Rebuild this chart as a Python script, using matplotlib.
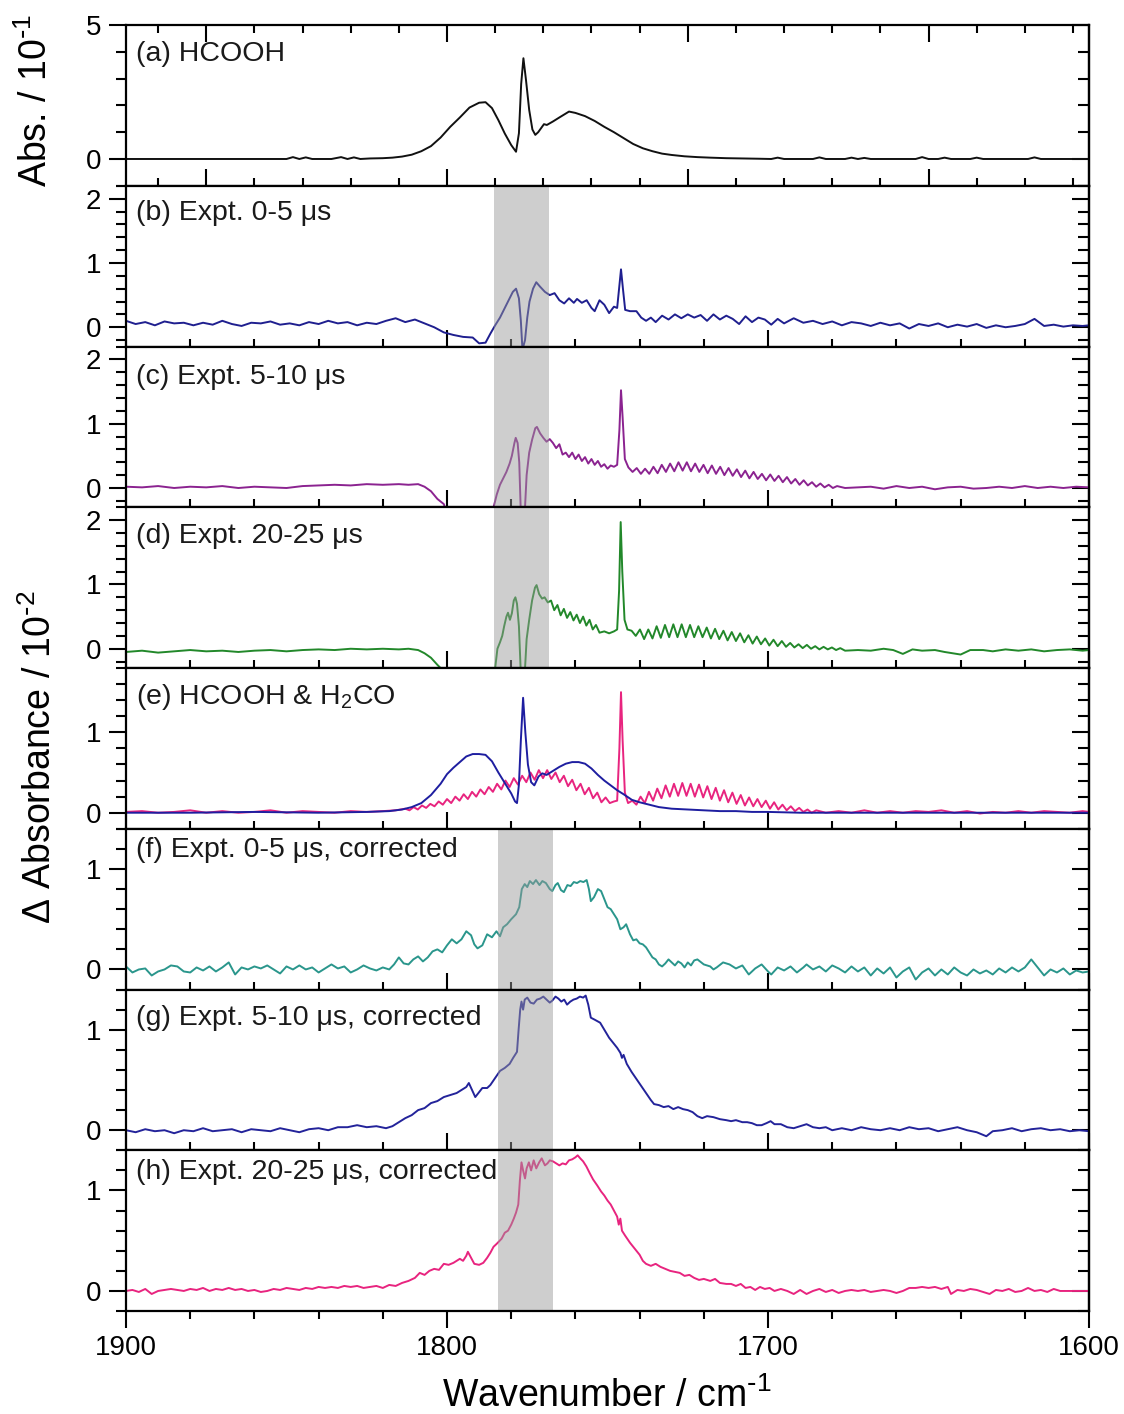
import numpy as np
import matplotlib
matplotlib.use('Agg')
import matplotlib.pyplot as plt
from matplotlib.ticker import MultipleLocator, FuncFormatter

plt.rcParams['font.family'] = ['Liberation Sans', 'DejaVu Sans']
plt.rcParams['mathtext.default'] = 'regular'

# --- data: (wavenumber, value) ---
hcooh_ref = [(1900,0),(1870,0),(1850,0),(1848,0.07),(1846,0),(1844,0.06),(1842,0),(1836,0),(1833,0.07),(1831,0),
             (1829,0.06),(1827,0),(1824,0.02),(1820,0.03),(1817,0.05),(1814,0.09),(1811,0.16),(1808,0.29),(1805,0.48),
             (1802,0.8),(1799,1.2),(1796,1.55),(1793,1.92),(1790,2.1),(1788,2.12),(1786,1.9),(1784,1.45),(1782,0.95),
             (1780,0.52),(1778.5,0.27),(1777.6,0.96),(1776.9,2.8),(1776.2,3.76),(1775.4,2.95),(1774.4,1.83),(1773.4,1.1),
             (1772.5,0.9),(1771.6,1.0),(1770.7,1.15),(1769.8,1.3),(1768.9,1.27),(1767,1.4),(1765,1.55),(1762,1.77),
             (1760,1.72),(1757,1.6),(1754,1.42),(1751,1.2),(1748,1.0),(1745,0.78),(1742,0.56),(1739,0.4),(1736,0.29),
             (1733,0.2),(1730,0.15),(1726,0.1),(1722,0.07),(1718,0.05),(1713,0.03),(1708,0.02),(1703,0.01),(1699,0),
             (1697,0.05),(1695,0),(1686,0),(1684,0.06),(1682,0),(1676,0),(1674,0.05),(1672,0),(1670,0.04),(1668,0),
             (1654,0),(1652,0.07),(1650,0),(1647,0),(1645,0.05),(1643,0),(1637,0),(1635,0.05),(1633,0),(1619,0),
             (1617,0.06),(1615,0),(1600,0)]

expt_0_5 = [(1900,0.10),(1897,0.05),(1894,0.08),(1891,0.03),(1888,0.09),(1885,0.06),(1882,0.07),(1879,0.03),(1876,0.07),
            (1873,0.04),(1870,0.10),(1867,0.05),(1864,0.02),(1861,0.07),(1858,0.06),(1855,0.09),(1852,0.04),(1849,0.06),
            (1846,0.03),(1843,0.08),(1840,0.05),(1837,0.10),(1834,0.06),(1831,0.08),(1828,0.03),(1825,0.07),(1822,0.05),
            (1819,0.10),(1816,0.14),(1813,0.08),(1810,0.12),(1807,0.06),(1804,0.0),(1801,-0.08),(1798,-0.12),(1795,-0.15),
            (1792,-0.16),(1790,-0.25),(1788,-0.24),(1786.5,-0.1),(1785,0.03),(1783.5,0.15),(1782,0.3),(1780.5,0.45),
            (1779.5,0.55),(1778.5,0.6),(1777.6,0.45),(1777,0.1),(1776.5,-0.35),(1775.7,-0.2),(1775,0.15),(1774.3,0.4),
            (1773.2,0.6),(1772.2,0.7),(1771,0.63),(1769.5,0.55),(1768,0.5),(1766.5,0.53),(1765,0.42),(1763.5,0.37),
            (1762,0.45),(1760.5,0.38),(1759.5,0.44),(1758,0.38),(1756.5,0.42),(1755,0.3),(1754,0.25),(1752.5,0.42),
            (1751,0.35),(1749.5,0.22),(1748,0.32),(1747,0.3),(1746.2,0.7),(1745.8,0.9),(1745.2,0.6),(1744.5,0.27),
            (1743,0.25),(1741,0.25),(1739.5,0.15),(1738,0.1),(1736.5,0.15),(1735,0.08),(1733,0.18),(1731,0.12),
            (1729,0.2),(1727,0.14),(1725,0.2),(1723,0.15),(1721,0.19),(1719,0.1),(1717,0.2),(1715,0.12),(1713,0.18),
            (1711,0.13),(1709,0.05),(1707,0.17),(1705,0.08),(1703,0.15),(1701,0.12),(1699,0.04),(1697,0.13),(1695,0.06),
            (1692,0.14),(1689,0.07),(1686,0.1),(1683,0.05),(1680,0.09),(1677,0.03),(1674,0.08),(1671,0.06),(1668,0.02),
            (1665,0.07),(1662,0.03),(1659,0.06),(1656,-0.02),(1653,0.05),(1650,0.02),(1647,0.06),(1644,0.0),(1641,0.04),
            (1638,0.01),(1635,0.05),(1632,-0.01),(1629,0.03),(1626,0.0),(1623,0.02),(1620,0.05),(1617,0.13),(1614,0.02),
            (1611,0.04),(1608,0.01),(1605,0.03),(1602,0.02),(1600,0.03)]

expt_5_10 = [(1900,0.02),(1895,0.01),(1890,0.03),(1885,0.0),(1880,0.02),(1875,0.01),(1870,0.03),(1865,0.0),(1860,0.02),
             (1855,0.01),(1850,0.0),(1845,0.03),(1840,0.04),(1835,0.05),(1830,0.04),(1825,0.06),(1820,0.05),(1815,0.06),
             (1812,0.05),(1809,0.06),(1807,0.02),(1805,-0.05),(1803,-0.17),(1801,-0.25),(1800,-0.4),(1799,-0.6),
             (1787,-0.6),(1785.5,-0.3),(1784.5,-0.1),(1783.5,0.05),(1782.5,0.15),(1781.5,0.25),(1780.5,0.38),
             (1779.8,0.5),(1779,0.7),(1778.6,0.78),(1778,0.7),(1777.5,0.4),(1777,-0.4),(1775.8,-0.4),(1775.2,0.2),
             (1774.4,0.55),(1773.5,0.75),(1772.5,0.93),(1772,0.95),(1771,0.85),(1770,0.78),(1769,0.72),(1768,0.76),
             (1767,0.7),(1766,0.62),(1765,0.68),(1764,0.52),(1763,0.55),(1762,0.48),(1761,0.55),(1760,0.45),(1759,0.52),
             (1758,0.42),(1757,0.48),(1756,0.38),(1755,0.45),(1754,0.36),(1753,0.42),(1752,0.33),(1751,0.37),(1750,0.3),
             (1749,0.35),(1748,0.33),(1747,0.36),(1746.3,0.9),(1745.8,1.52),(1745.3,1.1),(1744.6,0.45),(1743.5,0.32),
             (1742.2,0.25),(1740.9,0.31),(1739.6,0.22),(1738.3,0.3),(1737,0.22),(1735.7,0.33),(1734.4,0.23),
             (1733.1,0.36),(1731.8,0.25),(1730.5,0.38),(1729.2,0.26),(1727.9,0.4),(1726.6,0.27),(1725.3,0.4),(1724,0.26),
             (1722.7,0.38),(1721.4,0.25),(1720.1,0.36),(1718.8,0.23),(1717.5,0.35),(1716.2,0.22),(1714.9,0.33),
             (1713.6,0.2),(1712.3,0.31),(1711,0.19),(1709.7,0.29),(1708.4,0.17),(1707.1,0.27),(1705.8,0.15),
             (1704.5,0.25),(1703.2,0.14),(1701.9,0.22),(1700.6,0.12),(1699.3,0.21),(1698,0.11),(1696.7,0.19),
             (1695.4,0.09),(1694.1,0.17),(1692.8,0.07),(1691.5,0.14),(1690.2,0.05),(1688.9,0.12),(1687.6,0.04),
             (1686.3,0.09),(1685,0.02),(1683.7,0.07),(1682.4,0.01),(1681.1,0.05),(1679.8,0.0),(1678.5,0.03),(1676,0.0),
             (1672,0.01),(1668,0.02),(1664,-0.01),(1660,0.03),(1656,0.0),(1652,0.02),(1648,-0.02),(1644,0.01),
             (1640,0.02),(1636,-0.01),(1632,0.0),(1628,0.02),(1624,0.0),(1620,0.03),(1616,0.0),(1612,0.02),(1608,0.0),
             (1604,0.02),(1600,0.01)]

expt_20_25 = [(1900,-0.05),(1895,-0.03),(1890,-0.06),(1885,-0.04),(1880,-0.02),(1875,-0.04),(1870,-0.03),(1865,-0.05),
              (1860,-0.03),(1855,-0.02),(1850,-0.04),(1845,-0.02),(1840,-0.01),(1835,-0.02),(1830,0.0),(1825,-0.01),
              (1820,0.0),(1815,-0.01),(1812,0.0),(1809,-0.02),(1807,-0.07),(1805,-0.14),(1803,-0.25),(1801,-0.35),
              (1800,-0.6),(1787,-0.6),(1785,-0.3),(1784.3,0.0),(1783.5,0.1),(1782.8,0.2),(1782.2,0.35),(1781.5,0.5),
              (1781,0.56),(1780.4,0.45),(1779.8,0.55),(1779.2,0.75),(1778.7,0.8),(1778.2,0.7),(1777.6,0.35),
              (1777,-0.4),(1775.8,-0.4),(1775.2,0.15),(1774.4,0.45),(1773.5,0.75),(1772.6,0.95),(1772.1,0.99),
              (1771.3,0.85),(1770.4,0.78),(1769.6,0.8),(1768.6,0.72),(1767.6,0.75),(1766.6,0.6),(1765.6,0.68),
              (1764.6,0.52),(1763.6,0.62),(1762.6,0.48),(1761.6,0.57),(1760.6,0.44),(1759.6,0.53),(1758.6,0.4),
              (1757.6,0.5),(1756.6,0.36),(1755.6,0.45),(1754.6,0.3),(1753.6,0.37),(1752.5,0.25),(1751,0.27),
              (1749.5,0.24),(1748,0.27),(1747,0.3),(1746.4,0.9),(1745.9,1.97),(1745.4,1.2),(1744.7,0.45),(1743.8,0.3),
              (1742.5,0.28),(1741.2,0.2),(1739.9,0.3),(1738.6,0.15),(1737.3,0.3),(1736,0.16),(1734.7,0.35),
              (1733.4,0.17),(1732.1,0.37),(1730.8,0.18),(1729.5,0.38),(1728.2,0.18),(1726.9,0.38),(1725.6,0.18),
              (1724.3,0.37),(1723,0.18),(1721.7,0.35),(1720.4,0.18),(1719.1,0.33),(1717.8,0.16),(1716.5,0.31),
              (1715.2,0.15),(1713.9,0.28),(1712.6,0.13),(1711.3,0.26),(1710,0.12),(1708.7,0.24),(1707.4,0.1),
              (1706.1,0.21),(1704.8,0.08),(1703.5,0.19),(1702.2,0.07),(1700.9,0.16),(1699.6,0.05),(1698.3,0.14),
              (1697,0.04),(1695.7,0.12),(1694.4,0.03),(1693.1,0.09),(1691.8,0.02),(1690.5,0.07),(1689.2,0.01),
              (1687.9,0.06),(1686.6,0.0),(1685.3,0.04),(1684,-0.01),(1682.7,0.03),(1681.4,-0.01),(1680.1,0.02),
              (1678.8,-0.02),(1677.5,0.01),(1676,-0.03),(1672,-0.02),(1668,-0.03),(1664,0.0),(1661,-0.02),(1658,-0.08),
              (1655,-0.01),(1652,-0.03),(1648,-0.02),(1645,-0.05),(1640,-0.09),(1637,-0.02),(1633,-0.02),(1630,-0.04),
              (1626,-0.01),(1622,-0.03),(1618,-0.01),(1614,-0.04),(1610,-0.02),(1606,-0.01),(1602,-0.03),(1600,-0.02)]

hcooh_e = [(1900,0.0),(1880,0.0),(1860,0.01),(1840,0.0),(1825,0.01),(1818,0.02),(1814,0.04),(1811,0.07),(1808,0.12),
           (1805,0.22),(1802,0.36),(1800,0.48),(1798,0.56),(1796,0.63),(1794,0.7),(1792,0.73),(1790,0.73),(1788,0.72),
           (1786,0.64),(1784,0.5),(1782,0.37),(1780,0.24),(1778.8,0.14),(1778.2,0.12),(1777.6,0.35),(1777,0.9),
           (1776.3,1.43),(1775.6,1.0),(1774.8,0.6),(1773.8,0.38),(1772.8,0.34),(1771.5,0.45),(1770.3,0.49),(1769,0.47),
           (1767,0.52),(1765,0.57),(1763,0.61),(1761,0.63),(1759,0.63),(1757,0.61),(1755,0.55),(1753,0.47),(1751,0.4),
           (1749,0.34),(1747,0.28),(1745,0.23),(1742.4,0.16),(1740,0.13),(1737,0.1),(1734,0.07),(1730,0.05),
           (1725,0.04),(1720,0.03),(1715,0.02),(1710,0.02),(1705,0.01),(1700,0.01),(1690,0.0),(1680,0.0),(1660,0.0),
           (1640,0.0),(1620,0.0),(1600,0.0)]

h2co_e = [(1900,0.01),(1895,0.02),(1890,0.0),(1885,0.01),(1880,0.03),(1875,0.0),(1870,0.02),(1865,0.0),(1860,0.01),
          (1855,0.03),(1850,0.0),(1845,0.02),(1840,0.01),(1835,0.0),(1830,0.02),(1825,0.01),(1820,0.02),(1816,0.03),
          (1813,0.05),(1811.7,0.03),(1810.4,0.07),(1809.1,0.04),(1807.8,0.09),(1806.5,0.06),(1805.2,0.11),
          (1803.9,0.08),(1802.6,0.14),(1801.3,0.1),(1800,0.17),(1798.7,0.12),(1797.4,0.2),(1796.1,0.15),(1794.8,0.23),
          (1793.5,0.17),(1792.2,0.26),(1790.9,0.2),(1789.6,0.29),(1788.3,0.23),(1787,0.32),(1785.7,0.26),
          (1784.4,0.36),(1783.1,0.29),(1781.8,0.4),(1780.5,0.32),(1779.2,0.43),(1777.9,0.35),(1776.6,0.46),
          (1775.3,0.38),(1774,0.5),(1772.7,0.41),(1771.4,0.53),(1770.1,0.43),(1768.8,0.53),(1767.5,0.42),
          (1766.2,0.5),(1764.9,0.38),(1763.6,0.46),(1762.3,0.33),(1761,0.41),(1759.7,0.28),(1758.4,0.36),
          (1757.1,0.23),(1755.8,0.31),(1754.5,0.18),(1753.2,0.25),(1751.9,0.13),(1750.6,0.19),(1749.3,0.12),
          (1748,0.14),(1747,0.15),(1746.3,0.8),(1745.8,1.5),(1745.3,0.9),(1744.6,0.25),(1743.6,0.12),(1742.3,0.15),
          (1741,0.1),(1739.7,0.2),(1738.4,0.12),(1737.1,0.26),(1735.8,0.15),(1734.5,0.3),(1733.2,0.18),(1731.9,0.34),
          (1730.6,0.2),(1729.3,0.36),(1728,0.21),(1726.7,0.37),(1725.4,0.21),(1724.1,0.36),(1722.8,0.2),
          (1721.5,0.35),(1720.2,0.19),(1718.9,0.33),(1717.6,0.17),(1716.3,0.31),(1715,0.15),(1713.7,0.28),
          (1712.4,0.13),(1711.1,0.25),(1709.8,0.11),(1708.5,0.22),(1707.2,0.09),(1705.9,0.19),(1704.6,0.08),
          (1703.3,0.17),(1702,0.07),(1700.7,0.15),(1699.4,0.05),(1698.1,0.13),(1696.8,0.04),(1695.5,0.1),
          (1694.2,0.03),(1692.9,0.08),(1691.6,0.02),(1690.3,0.06),(1689,0.01),(1687.7,0.04),(1686.4,0.0),
          (1685,0.03),(1682,0.0),(1678,0.02),(1674,0.0),(1670,0.03),(1666,0.0),(1662,0.02),(1658,0.0),(1654,0.02),
          (1650,0.01),(1646,0.03),(1642,0.0),(1638,0.02),(1634,-0.01),(1630,0.01),(1626,0.0),(1622,0.02),(1618,0.0),
          (1614,0.02),(1610,0.01),(1606,0.0),(1602,0.02),(1600,0.01)]

corr_0_5 = [(1900,0.03),(1898,-0.03),(1896,0.0),(1894,0.01),(1892,-0.06),(1890,-0.02),(1888,0.0),(1886,0.04),(1884,0.03),
            (1882,-0.02),(1880,-0.03),(1878,0.02),(1876,-0.01),(1874,0.03),(1872,-0.02),(1870,0.02),(1868,0.07),
            (1866,-0.05),(1864,0.02),(1862,0.0),(1860,0.03),(1858,0.01),(1856,0.04),(1854,0.0),(1852,-0.04),(1850,0.03),
            (1848,0.0),(1846,0.04),(1844,0.0),(1842,0.02),(1840,-0.03),(1838,0.01),(1836,0.05),(1834,0.01),(1832,0.03),
            (1830,-0.03),(1828,0.0),(1826,0.04),(1824,0.01),(1822,-0.01),(1820,0.02),(1818,0.0),(1816.5,0.05),
            (1815,0.12),(1813.5,0.06),(1812,0.05),(1810.5,0.1),(1809,0.13),(1807.5,0.08),(1806,0.12),(1804.5,0.18),
            (1803,0.2),(1801.5,0.17),(1800,0.24),(1798.5,0.3),(1797,0.26),(1795.5,0.3),(1794,0.38),(1792.5,0.34),
            (1791.5,0.25),(1790.5,0.21),(1789,0.24),(1787.5,0.35),(1786,0.32),(1784.6,0.38),(1783.5,0.33),
            (1782.5,0.42),(1781.3,0.45),(1780,0.5),(1778.5,0.55),(1777.5,0.62),(1776.7,0.8),(1775.8,0.85),(1775,0.82),
            (1774.2,0.88),(1773.2,0.85),(1772.3,0.89),(1771.2,0.84),(1770.3,0.88),(1769.2,0.86),(1768,0.8),
            (1767.2,0.78),(1766.2,0.84),(1765.5,0.86),(1764.5,0.79),(1763.6,0.77),(1762.5,0.84),(1761.5,0.83),
            (1760.5,0.87),(1759.5,0.86),(1758.5,0.88),(1757.5,0.87),(1756.5,0.89),(1755.8,0.8),(1755.2,0.68),
            (1754.2,0.72),(1753,0.8),(1752,0.78),(1751,0.7),(1750,0.62),(1749,0.6),(1748,0.55),(1747,0.5),(1746,0.4),
            (1745,0.42),(1744.2,0.45),(1743,0.35),(1742,0.29),(1741,0.3),(1740,0.26),(1739,0.25),(1738,0.22),
            (1737,0.17),(1736,0.12),(1735,0.1),(1734,0.05),(1733,0.03),(1732,0.06),(1731,0.1),(1730,0.07),(1729,0.04),
            (1728,0.08),(1727,0.06),(1726,0.02),(1725,0.07),(1724,0.04),(1723,0.09),(1722,0.1),(1720,0.05),(1718,0.03),
            (1717,0.0),(1716,0.02),(1714,0.07),(1712,0.05),(1710,0.01),(1708,0.04),(1706,-0.05),(1704,0.01),(1702,0.05),
            (1700,-0.02),(1699,-0.05),(1697,0.02),(1695,-0.01),(1693,0.03),(1691,-0.03),(1689,0.02),(1688,0.05),
            (1686,0.0),(1684,0.03),(1682,-0.02),(1680,0.04),(1678,0.01),(1676,-0.03),(1674,0.03),(1672,-0.02),
            (1670,0.02),(1668,-0.06),(1666,0.01),(1664,-0.04),(1662,0.02),(1660,-0.08),(1658,-0.02),(1656,0.02),
            (1654,-0.1),(1652,-0.03),(1650,0.01),(1648,-0.06),(1646,0.0),(1644,-0.05),(1642,0.02),(1640,-0.03),
            (1638,-0.06),(1636,0.0),(1634,-0.04),(1632,-0.01),(1630,-0.05),(1628,0.01),(1626,-0.03),(1624,0.02),
            (1622,-0.02),(1620,0.02),(1618,0.1),(1616,0.02),(1614,-0.06),(1612,0.0),(1610,-0.03),(1608,0.01),
            (1606,-0.05),(1604,-0.01),(1602,-0.03),(1600,-0.02)]

corr_5_10 = [(1900,0.0),(1897,-0.02),(1894,0.01),(1891,-0.01),(1888,0.0),(1885,-0.03),(1882,0.0),(1879,-0.01),(1876,0.02),
             (1873,-0.01),(1870,0.0),(1867,0.01),(1864,-0.02),(1861,0.01),(1858,0.0),(1855,-0.01),(1852,0.02),(1849,0.0),
             (1846,-0.02),(1843,0.01),(1840,0.02),(1837,0.0),(1834,0.03),(1831,0.03),(1828,0.05),(1825,0.03),(1822,0.04),
             (1819,0.02),(1817,0.04),(1815,0.08),(1813,0.12),(1811,0.15),(1809,0.2),(1807,0.22),(1805,0.27),(1803,0.29),
             (1801,0.33),(1799,0.35),(1797,0.37),(1795.5,0.4),(1794,0.43),(1793.2,0.47),(1792.2,0.4),(1791.2,0.33),
             (1790,0.38),(1789,0.42),(1787.5,0.42),(1786.5,0.45),(1785,0.52),(1783.5,0.59),(1782,0.62),(1780.5,0.66),
             (1779.4,0.72),(1778.2,0.78),(1777.7,1.0),(1777.2,1.2),(1776.8,1.28),(1776.3,1.2),(1775.8,1.3),(1775,1.32),
             (1774,1.27),(1773,1.26),(1772,1.3),(1771,1.31),(1770,1.33),(1769,1.3),(1768,1.27),(1767.2,1.29),
             (1766.2,1.33),(1765.3,1.31),(1764.4,1.28),(1763.5,1.3),(1762.6,1.25),(1761.6,1.28),(1760.6,1.3),
             (1759.6,1.31),(1758.6,1.33),(1757.6,1.32),(1756.8,1.34),(1756,1.25),(1755.2,1.12),(1754,1.1),(1752.3,1.07),
             (1751,1.0),(1749.5,0.92),(1748.5,0.88),(1747,0.82),(1746,0.77),(1745.5,0.72),(1745,0.75),(1744,0.66),
             (1742.5,0.58),(1741,0.51),(1739.5,0.44),(1737.8,0.36),(1736.5,0.3),(1735.5,0.26),(1734,0.25),(1732.5,0.23),
             (1731,0.24),(1729.5,0.21),(1728,0.23),(1726.5,0.21),(1725,0.2),(1723.5,0.18),(1722,0.14),(1720.5,0.12),
             (1719,0.14),(1717,0.13),(1715,0.11),(1713,0.1),(1711.5,0.09),(1710,0.1),(1708,0.08),(1706.5,0.08),
             (1705,0.07),(1703.5,0.05),(1702,0.05),(1700.5,0.07),(1699.2,0.09),(1698,0.06),(1696,0.06),(1694,0.03),
             (1692,0.02),(1690,0.04),(1688,0.06),(1686,0.03),(1684,0.02),(1682,0.03),(1680,0.0),(1677,0.02),(1674,0.0),
             (1671,0.03),(1668,0.01),(1665,0.0),(1662,0.02),(1659,0.0),(1656,0.03),(1653,0.01),(1650,0.02),(1647,-0.01),
             (1644,0.01),(1641,0.03),(1638,0.0),(1635,-0.02),(1632,-0.06),(1630,-0.01),(1627,0.0),(1624,0.02),
             (1621,-0.01),(1618,0.01),(1615,0.02),(1612,0.0),(1609,0.01),(1606,-0.01),(1603,0.0),(1600,-0.01)]

corr_20_25 = [(1900,0.0),(1898,0.01),(1896,-0.01),(1894,0.02),(1892,-0.03),(1890,0.0),(1888,0.01),(1886,0.02),(1884,0.01),
              (1882,0.0),(1880,0.02),(1878,0.01),(1876,0.03),(1874,0.0),(1872,0.02),(1870,0.01),(1868,0.03),(1866,0.01),
              (1864,0.02),(1862,0.0),(1860,0.01),(1858,-0.01),(1856,0.0),(1854,0.02),(1852,0.01),(1850,0.03),(1848,0.02),
              (1846,0.01),(1844,0.03),(1842,0.02),(1840,0.04),(1838,0.03),(1836,0.04),(1834,0.03),(1832,0.05),(1830,0.04),
              (1828,0.05),(1826,0.03),(1824,0.04),(1822,0.05),(1820,0.03),(1818,0.06),(1816,0.05),(1814,0.08),(1812,0.1),
              (1810,0.13),(1808.5,0.18),(1807,0.16),(1805.5,0.2),(1804,0.22),(1802.5,0.21),(1801,0.27),(1799.5,0.26),
              (1798,0.28),(1797,0.3),(1796,0.32),(1795,0.3),(1794,0.35),(1793.5,0.39),(1792.5,0.33),(1791.5,0.27),
              (1790,0.26),(1788.7,0.28),(1787.5,0.33),(1786.5,0.38),(1785.5,0.44),(1784.5,0.47),(1783,0.52),(1782,0.58),
              (1781,0.6),(1780,0.66),(1779.2,0.72),(1778.5,0.78),(1777.8,0.86),(1777.3,1.1),(1776.8,1.28),(1776.3,1.2),
              (1775.7,1.12),(1775.2,1.22),(1774.5,1.28),(1773.8,1.2),(1773,1.3),(1772.2,1.22),(1771.3,1.28),
              (1770.5,1.32),(1769.5,1.25),(1768.7,1.27),(1768,1.3),(1767,1.29),(1766,1.27),(1765,1.25),(1764,1.27),
              (1763,1.26),(1762,1.3),(1761,1.31),(1760,1.33),(1759.3,1.35),(1758.5,1.32),(1757.6,1.29),(1756.6,1.24),
              (1755.5,1.17),(1754.5,1.11),(1753.2,1.05),(1752,0.99),(1751,0.95),(1750,0.9),(1749,0.86),(1748,0.8),
              (1747,0.74),(1746.5,0.66),(1746,0.72),(1745.5,0.6),(1744.5,0.55),(1743,0.48),(1741.5,0.42),(1740,0.36),
              (1739,0.3),(1738,0.27),(1736.5,0.25),(1735,0.27),(1733.5,0.24),(1732,0.22),(1730.5,0.2),(1729,0.19),
              (1727.5,0.18),(1726,0.15),(1724.5,0.16),(1723,0.13),(1721.5,0.11),(1720,0.12),(1718,0.1),(1716.5,0.12),
              (1715,0.08),(1713,0.07),(1711.5,0.07),(1710,0.05),(1708.5,0.07),(1707,0.03),(1705.5,0.04),(1704,0.01),
              (1702.5,0.04),(1701,0.02),(1699.5,0.03),(1698,0.0),(1696,0.02),(1694,0.0),(1692,-0.03),(1690,0.01),
              (1688,-0.03),(1686,0.0),(1684,0.02),(1682,-0.01),(1680,0.01),(1678,-0.02),(1676,0.0),(1674,0.01),
              (1672,0.0),(1670,0.01),(1668,-0.01),(1666,0.0),(1664,0.01),(1662,0.0),(1660,-0.02),(1658,0.0),(1656,0.03),
              (1654,0.03),(1652,0.04),(1650,0.03),(1648,0.04),(1646,0.02),(1644,0.04),(1643,-0.03),(1641,0.01),
              (1639,0.0),(1637,0.02),(1635,0.01),(1633,-0.01),(1631,-0.03),(1629,0.01),(1627,0.0),(1625,0.02),
              (1623,-0.01),(1621,0.0),(1619,0.03),(1617,0.0),(1615,0.01),(1613,-0.01),(1611,0.02),(1609,0.0),
              (1606,0.0),(1603,0.0),(1600,0.0)]

panel_labels = ['(a) HCOOH', '(b) Expt. 0-5 μs', '(c) Expt. 5-10 μs', '(d) Expt. 20-25 μs',
                '(e) HCOOH & H$_2$CO', '(f) Expt. 0-5 μs, corrected', '(g) Expt. 5-10 μs, corrected',
                '(h) Expt. 20-25 μs, corrected']
panel_curves = [[(hcooh_ref, '#111111')],
                [(expt_0_5, '#1f1f8f')],
                [(expt_5_10, '#8b2390')],
                [(expt_20_25, '#22882a')],
                [(h2co_e, '#e8247f'), (hcooh_e, '#1e1ea0')],
                [(corr_0_5, '#2a968c')],
                [(corr_5_10, '#23239a')],
                [(corr_20_25, '#e8247f')]]
ylims = [(-1, 5), (-0.3, 2.2), (-0.3, 2.2), (-0.3, 2.2), (-0.2, 1.8), (-0.2, 1.4), (-0.2, 1.4), (-0.2, 1.4)]
label_offsets = [29, 27, 30, 29, 29, 21, 28, 22]   # px below panel top
band_upper = (1785.4, 1768.2)
band_lower = (1784.1, 1767.0)

fig, axes = plt.subplots(8, 1, figsize=(11.24, 14.14), dpi=100)
fig.subplots_adjust(left=0.1121, right=0.9689, top=0.9823, bottom=0.0728, hspace=0)
panel_h = (1311 - 25) / 8.0
fmt = FuncFormatter(lambda v, p: '%d' % int(round(v)))

for i, ax in enumerate(axes):
    for data, col in panel_curves[i]:
        arr = np.array(data)
        ax.plot(arr[:, 0], arr[:, 1], color=col, lw=1.4, zorder=2)
    ax.set_xlim(1900, 1600)
    ax.set_ylim(*ylims[i])
    for s in ax.spines.values():
        s.set_linewidth(1.6)

    if i in (1, 2, 3):
        ax.axvspan(*band_upper, color='#9a9a9a', alpha=0.48, lw=0, zorder=2.2)
    if i in (5, 6, 7):
        ax.axvspan(*band_lower, color='#9a9a9a', alpha=0.48, lw=0, zorder=2.2)

    # x ticks
    if i == 0:
        ax.xaxis.set_major_locator(MultipleLocator(75))
        ax.xaxis.set_minor_locator(MultipleLocator(15))
    else:
        ax.xaxis.set_major_locator(MultipleLocator(100))
        ax.xaxis.set_minor_locator(MultipleLocator(20))
    ax.tick_params(axis='x', which='both', direction='out' if i == 7 else 'in',
                   top=(i == 0), bottom=True, labelbottom=(i == 7), width=1.5,
                   labelsize=20, pad=5)
    ax.tick_params(axis='x', which='major', length=12)
    ax.tick_params(axis='x', which='minor', length=6)

    # y ticks: outward on the left, inward on the right
    ymaj = 5 if i == 0 else 1
    ymin = 1 if i == 0 else 0.2
    ax.yaxis.set_major_locator(MultipleLocator(ymaj))
    ax.yaxis.set_minor_locator(MultipleLocator(ymin))
    ax.yaxis.set_major_formatter(fmt)
    ax.tick_params(axis='y', which='both', direction='out', left=True, right=False,
                   width=1.5, labelsize=20, pad=6)
    ax.tick_params(axis='y', which='major', length=12)
    ax.tick_params(axis='y', which='minor', length=7)
    sec = ax.secondary_yaxis('right')
    sec.yaxis.set_major_locator(MultipleLocator(ymaj))
    sec.yaxis.set_minor_locator(MultipleLocator(ymin))
    sec.tick_params(axis='y', which='both', direction='in', labelright=False, width=1.5)
    sec.tick_params(axis='y', which='major', length=12)
    sec.tick_params(axis='y', which='minor', length=8)
    sec.spines['right'].set_linewidth(1.6)

    ax.text(0.01, 1 - label_offsets[i] / panel_h, panel_labels[i], transform=ax.transAxes,
            fontsize=20.5, ha='left', va='center', color='#1a1a1a', zorder=4)

fig.text(36 / 1124, 1 - 100 / 1414, r'Abs. / 10$^{\text{-}1}$', rotation=90, fontsize=27,
         ha='center', va='center')
fig.text(40 / 1124, 1 - 757 / 1414, r'Δ Absorbance / 10$^{\text{-}2}$', rotation=90, fontsize=27,
         ha='center', va='center')
fig.text(607 / 1124, 1 - 1396 / 1414, r'Wavenumber / cm$^{\text{-}1}$', fontsize=27,
         ha='center', va='center')

fig.savefig('out.png', dpi=100)
